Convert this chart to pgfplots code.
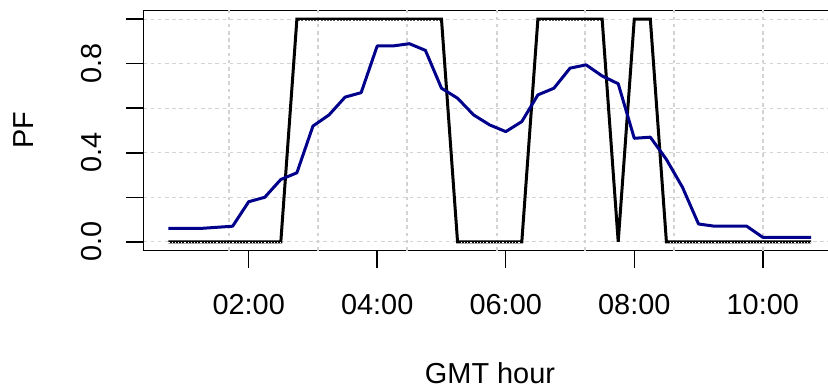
\documentclass[border=0pt]{standalone}
\usepackage{fontspec}
\setmainfont{Liberation Sans}
\usepackage{pgfplots}
\pgfplotsset{compat=1.18}
\definecolor{gridgray}{RGB}{211,211,211}
\definecolor{rdarkblue}{RGB}{0,0,139}
\begin{document}
\begin{tikzpicture}
\begin{axis}[
  at={(143.3bp,138.3bp)}, anchor=south west,
  scale only axis, width=693.4bp, height=240.4bp,
  xmin=0.36, xmax=11.15, ymin=-0.04, ymax=1.04,
  axis line style={black, line width=1.5bp},
  tick align=outside, major tick length=17bp,
  tick style={black, line width=1.5bp},
  xtick pos=bottom, ytick pos=left,
  xtick={2,4,6,8,10},
  xticklabels={02:00,04:00,06:00,08:00,10:00},
  ytick={0,0.2,0.4,0.6,0.8,1.0},
  yticklabels={0.0,,0.4,,0.8,},
  extra x ticks={1.694,3.079,4.464,5.865,7.234,8.619,10.004},
  extra x tick labels={},
  extra x tick style={major tick length=0pt, xmajorgrids=true},
  ymajorgrids=true,
  major grid style={gridgray, line width=1.4bp, dash pattern=on 3.6bp off 3.6bp},
  ticklabel style={font=\fontsize{29}{34}\selectfont, text=black},
  xticklabel style={anchor=base, yshift=-46.6bp},
  yticklabel style={xshift=-24.6bp, rotate=90, anchor=base},
  xlabel={GMT hour},
  every axis x label/.style={at={(axis description cs:0.5,0)}, yshift=-132.6bp, anchor=base, font=\fontsize{29}{34}\selectfont},
  ylabel={PF},
  every axis y label/.style={at={(axis description cs:0,0.5)}, xshift=-110bp, rotate=90, anchor=base, font=\fontsize{29}{34}\selectfont},
  clip=false,
]
\addplot[black, line width=3bp, line join=miter, miter limit=2] coordinates {
(0.75,0)(1.0,0)(1.25,0)(1.5,0)(1.75,0)(2.0,0)(2.25,0)(2.5,0)
(2.75,1)(3.0,1)(3.25,1)(3.5,1)(3.75,1)(4.0,1)(4.25,1)(4.5,1)(4.75,1)(5.0,1)
(5.25,0)(5.5,0)(5.75,0)(6.0,0)(6.25,0)
(6.5,1)(6.75,1)(7.0,1)(7.25,1)(7.5,1)
(7.75,0)(8.0,1)(8.25,1)
(8.5,0)(8.75,0)(9.0,0)(9.25,0)(9.5,0)(9.75,0)(10.0,0)(10.25,0)(10.5,0)(10.75,0)
};
\addplot[white, line width=1bp, dash pattern=on 1.2bp off 2bp, transform canvas={yshift=-0.9bp}] coordinates {
(0.75,0)(2.5,0)
};
\addplot[white, line width=1bp, dash pattern=on 1.2bp off 2bp, transform canvas={yshift=-0.9bp}] coordinates {
(2.8,1)(4.97,1)
};
\addplot[white, line width=1bp, dash pattern=on 1.2bp off 2bp, transform canvas={yshift=-0.9bp}] coordinates {
(5.3,0)(6.22,0)
};
\addplot[white, line width=1bp, dash pattern=on 1.2bp off 2bp, transform canvas={yshift=-0.9bp}] coordinates {
(6.55,1)(7.47,1)
};
\addplot[white, line width=1bp, dash pattern=on 1.2bp off 2bp, transform canvas={yshift=-0.9bp}] coordinates {
(8.55,0)(10.75,0)
};
\addplot[rdarkblue, line width=3bp, line join=round] coordinates {
(0.75,0.06)(1.0,0.06)(1.25,0.06)(1.5,0.065)(1.75,0.07)(2.0,0.18)(2.25,0.20)(2.5,0.28)
(2.75,0.31)(3.0,0.52)(3.25,0.57)(3.5,0.65)(3.75,0.67)(4.0,0.88)(4.25,0.88)(4.5,0.89)
(4.75,0.86)(5.0,0.69)(5.25,0.645)(5.5,0.57)(5.75,0.525)(6.0,0.495)(6.25,0.54)(6.5,0.66)
(6.75,0.69)(7.0,0.78)(7.25,0.795)(7.5,0.745)(7.75,0.71)(8.0,0.465)(8.25,0.47)(8.5,0.37)
(8.75,0.245)(9.0,0.08)(9.25,0.07)(9.5,0.07)(9.75,0.07)(10.0,0.02)(10.25,0.02)(10.5,0.02)(10.75,0.02)
};
\end{axis}
\pgfresetboundingbox
\useasboundingbox (0,0) rectangle (828bp,389bp);
\end{tikzpicture}
\end{document}
